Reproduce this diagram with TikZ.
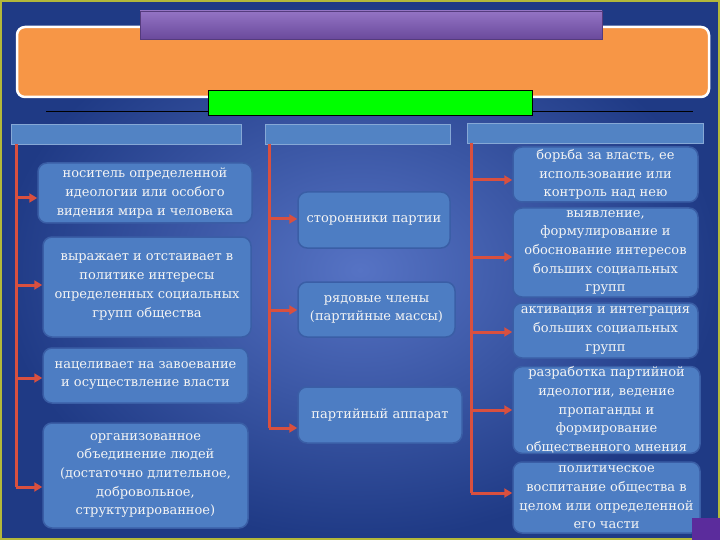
\documentclass[tikz,border=0pt]{standalone}
\usepackage{fontspec}
\setmainfont{DejaVu Serif}
\usetikzlibrary{arrows.meta}
\definecolor{bgin}{HTML}{5673C4}
\definecolor{bgout}{HTML}{1F3A85}
\definecolor{boxfill}{HTML}{4D7DC3}
\definecolor{boxline}{HTML}{3A5EA6}
\definecolor{hdrfill}{HTML}{5283C4}
\definecolor{orangefill}{HTML}{F79646}
\definecolor{purtop}{HTML}{9474C4}
\definecolor{purbot}{HTML}{6A4A9C}
\definecolor{redl}{HTML}{D9503F}
\definecolor{framec}{HTML}{B3B83A}
\definecolor{txt}{HTML}{F4F4F4}
\definecolor{cornersq}{HTML}{5B2C9C}
\tikzset{
  box/.style={draw=boxline, line width=1.5pt, fill=boxfill, rounded corners=9pt,
    text=txt, align=center, font=\fontsize{13}{18.7}\selectfont, inner sep=0pt},
  hdr/.style={draw=hdrfill!70!white, line width=0.6pt, fill=hdrfill, inner sep=0pt, minimum height=20pt},
  redline/.style={draw=redl, line width=3pt},
  arr/.style={draw=redl, line width=3pt, -{Triangle[length=8pt,width=9pt]}},
}
\begin{document}
\begin{tikzpicture}[x=1pt,y=-1pt]
\useasboundingbox (0,0) rectangle (720,540);
% background
\fill[inner color=bgin, outer color=bgout] (0,0) rectangle (720,540);
\draw[framec, line width=2pt] (1,1) rectangle (719,539);
% top decorations
\node[draw=white, line width=2.5pt, fill=orangefill, rounded corners=8pt,
  minimum width=692pt, minimum height=70pt, inner sep=0pt] (orange) at (363,62) {};
\node[top color=purtop, bottom color=purbot, draw=purbot!80!black, line width=0.4pt,
  minimum width=462pt, minimum height=28pt, inner sep=0pt] (purple) at (371,25) {};
\coordinate (bl) at (46,111);
\coordinate (br) at (693,111);
\draw[black, line width=0.8pt] (bl) -- (br);
\node[fill=green, draw=black, line width=0.8pt, minimum width=324pt, minimum height=25pt,
  inner sep=0pt] (green) at (370,102.5) {};
% header bars
\node[hdr, minimum width=230pt] (HL) at (126,134) {};
\node[hdr, minimum width=185pt] (HM) at (357.5,134) {};
\node[hdr, minimum width=236pt] (HR) at (585,133.5) {};
% left column
\node[box, minimum width=214pt, minimum height=60pt] (L1) at (145,193)
  {носитель определенной\\идеологии или особого\\видения мира и человека};
\node[box, minimum width=208pt, minimum height=100pt] (L2) at (147,287)
  {выражает и отстаивает в\\политике интересы\\определенных социальных\\групп общества};
\node[box, minimum width=205pt, minimum height=55pt] (L3) at (145.5,375.5)
  {нацеливает на завоевание\\и осуществление власти};
\node[box, minimum width=205pt, minimum height=105pt] (L4) at (145.5,475.5)
  {организованное\\объединение людей\\(достаточно длительное,\\добровольное,\\структурированное)};
% middle column
\node[box, minimum width=152pt, minimum height=56pt] (M1) at (374,220) {сторонники партии};
\node[box, minimum width=157pt, minimum height=55pt] (M2) at (376.5,309.5)
  {рядовые члены\\(партийные массы)};
\node[box, minimum width=164pt, minimum height=56pt] (M3) at (380,415) {партийный аппарат};
% right column
\node[box, minimum width=185pt, minimum height=55pt] (R1) at (605.5,174.5)
  {борьба за власть, ее\\использование или\\контроль над нею};
\node[box, minimum width=185pt, minimum height=89pt] (R2) at (605.5,252.5)
  {выявление,\\формулирование и\\обоснование интересов\\больших социальных\\групп};
\node[box, minimum width=185pt, minimum height=55pt] (R3) at (605.5,330.5)
  {активация и интеграция\\больших социальных\\групп};
\node[box, minimum width=187pt, minimum height=86pt] (R4) at (606.5,410)
  {разработка партийной\\идеологии, ведение\\пропаганды и\\формирование\\общественного мнения};
\node[box, minimum width=187pt, minimum height=71pt] (R5) at (606.5,497.5)
  {политическое\\воспитание общества в\\целом или определенной\\его части};
% connectors
\coordinate (lt) at (16,144);
\coordinate (l1) at (16,198);
\coordinate (l2) at (16,285);
\coordinate (l3) at (16,378);
\coordinate (l4) at (16,487);
\draw[redline] (lt) -- (l4);
\draw[arr] (l1) -- (l1 -| L1.west);
\draw[arr] (l2) -- (l2 -| L2.west);
\draw[arr] (l3) -- (l3 -| L3.west);
\draw[arr] (l4) -- (l4 -| L4.west);
\coordinate (mt) at (269,144);
\coordinate (m1) at (269,219);
\coordinate (m2) at (269,310);
\coordinate (m3) at (269,428);
\draw[redline] (mt) -- (m3);
\draw[arr] (m1) -- (m1 -| M1.west);
\draw[arr] (m2) -- (m2 -| M2.west);
\draw[arr] (m3) -- (m3 -| M3.west);
\coordinate (rt) at (471,143);
\coordinate (r1) at (471,180);
\coordinate (r2) at (471,257);
\coordinate (r3) at (471,332);
\coordinate (r4) at (471,410);
\coordinate (r5) at (471,493);
\draw[redline] (rt) -- (r5);
\draw[arr] (r1) -- (r1 -| R1.west);
\draw[arr] (r2) -- (r2 -| R2.west);
\draw[arr] (r3) -- (r3 -| R3.west);
\draw[arr] (r4) -- (r4 -| R4.west);
\draw[arr] (r5) -- (r5 -| R5.west);
% corner square
\fill[cornersq] (692,518) rectangle (720,540);
\end{tikzpicture}
\end{document}
